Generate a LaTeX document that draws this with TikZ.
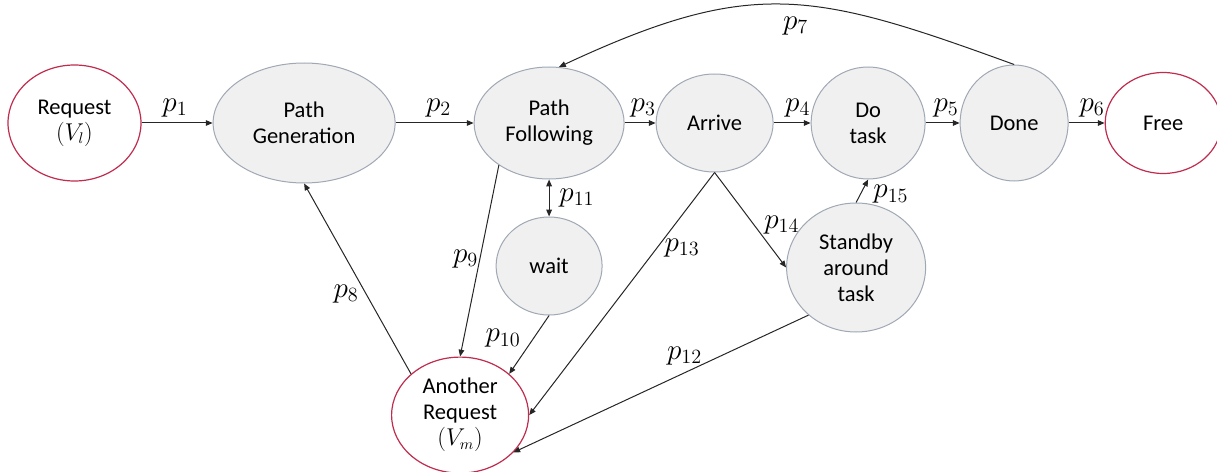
\documentclass[tikz,border=0pt]{standalone}
\usepackage[no-math]{fontspec}
\setmainfont{Carlito}
\usepackage{amsmath}
\usepackage{tikz}
\usetikzlibrary{positioning,shapes.geometric,arrows.meta}

\definecolor{stateborder}{RGB}{160,168,180}
\definecolor{statefill}{RGB}{240,240,240}
\definecolor{reqred}{RGB}{192,44,78}
\definecolor{edgecol}{RGB}{38,38,38}

\begin{document}
\begin{tikzpicture}[
thick, >={Triangle[length=1.7mm,width=1.4mm]},
graystate/.style={ellipse, draw=stateborder, fill=statefill, line width=0.25mm, inner sep=0pt, align=center},
redstate/.style={ellipse, draw=reqred, fill=white, line width=0.3mm, inner sep=0pt, align=center},
lbl/.style={inner sep=0pt, font=\huge},
edge/.style={->, draw=edgecol, line width=0.25mm}]
\tikzstyle{every node}=[font=\fontsize{16}{18.5}\selectfont]
\useasboundingbox (-18.625mm,30.75mm) rectangle (285.625mm,-87mm);
% top row
\node[redstate, minimum width=33.25mm, minimum height=29mm] (req) at (0,0) {Request\\$(V_l)$};
\node[graystate, minimum width=45.5mm, minimum height=30mm] (pg) [right=17.75mm of req] {Path\\Generation};
\node[graystate, minimum width=37.5mm, minimum height=28mm] (pf) [right=19.5mm of pg] {Path\\Following};
\node[graystate, minimum width=29.25mm, minimum height=24.5mm] (arr) [right=7.75mm of pf] {Arrive};
\node[graystate, minimum width=28.5mm, minimum height=28mm] (dt) [right=9.25mm of arr] {Do\\task};
\node[graystate, minimum width=27mm, minimum height=29mm] (done) [right=8.5mm of dt] {Done};
\node[redstate, minimum width=29mm, minimum height=25.25mm] (free) [right=9mm of done] {Free};
% lower nodes
\node[graystate, minimum width=26.5mm, minimum height=24.5mm] (wt) [below=9.25mm of pf] {wait};
\node[redstate, minimum width=34.25mm, minimum height=29mm] (ar) [below=44.25mm of pf, xshift=-22.25mm] {Another\\Request\\$(V_m)$};
\node[graystate, minimum width=34.75mm, minimum height=32.25mm] (sb) [below=5.75mm of dt, xshift=-3mm] {Standby\\around\\task};
% transitions
\draw[edge] (req) -- node[lbl, above=4pt, pos=0.47] {$p_1$} (pg);
\draw[edge] (pg) -- node[lbl, above=4pt, pos=0.55] {$p_2$} (pf);
\draw[edge] (pf) -- node[lbl, above=4pt, pos=0.6] {$p_3$} (arr);
\draw[edge] (arr) -- node[lbl, above=4pt, pos=0.65] {$p_4$} (dt);
\draw[edge] (dt) -- node[lbl, above=4pt, pos=0.6] {$p_5$} (done);
\draw[edge] (done) -- node[lbl, above=4pt, pos=0.65] {$p_6$} (free);
\draw[edge] (done.north) to[out=160, in=25, looseness=1.2] node[lbl, below=8pt, pos=0.47] {$p_7$} (pf.80);
\draw[edge] (ar.140) -- node[lbl, left=5pt, pos=0.42] {$p_8$} (pg.south);
\draw[edge] (pf.220) -- node[lbl, left=1pt, pos=0.49] {$p_9$} (ar.north);
\draw[edge] (wt.south) -- node[lbl, left=9pt, pos=0.39] {$p_{10}$} (ar.40);
\draw[edge, <->] (pf.south) -- node[lbl, right=7pt] {$p_{11}$} (wt.north);
\draw[edge] (sb.225) -- node[lbl, above=5pt, pos=0.42] {$p_{12}$} (ar.-35);
\draw[edge] (arr.south) -- node[lbl, right=5pt, pos=0.31] {$p_{13}$} (ar.east);
\draw[edge] (arr.south) -- node[lbl, right=7pt, pos=0.55] {$p_{14}$} (sb.west);
\draw[edge] (sb.north) -- node[lbl, right=9pt, pos=0.35] {$p_{15}$} (dt.south);
\end{tikzpicture}
\end{document}
